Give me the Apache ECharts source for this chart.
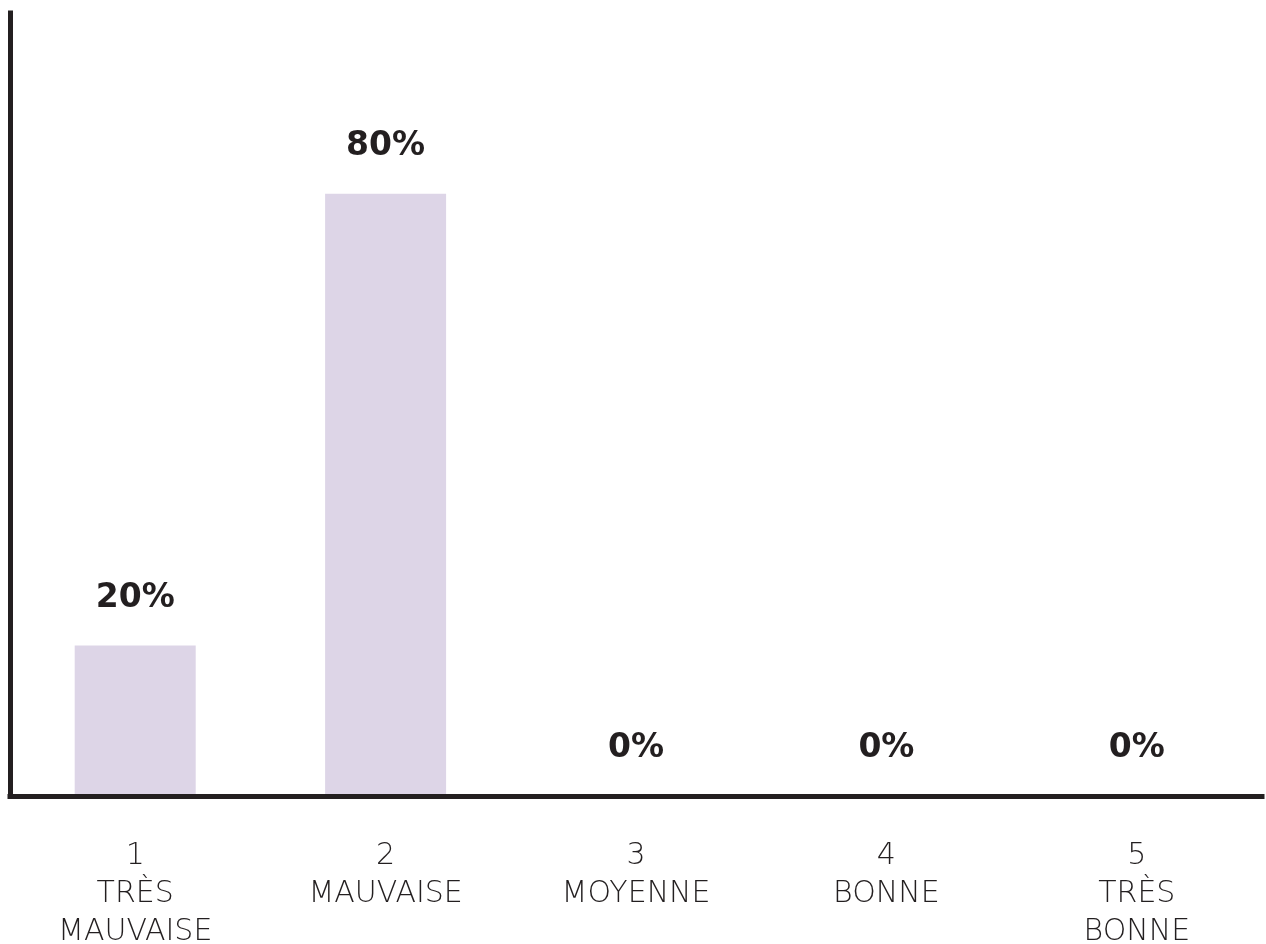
<!DOCTYPE html>
<html>
<head>
<meta charset="utf-8">
<script src="https://cdn.jsdelivr.net/npm/echarts@6/dist/echarts.min.js"></script>
<style>
    html, body { margin: 0; padding: 0; background: #ffffff; }
    #grafica { width: 1266px; height: 944px; }
</style>
</head>
<body>
<div id="grafica"></div>
<script>
// donnees du graphique
var notes = ['1', '2', '3', '4', '5'];
var libelles = ['TRÈS\nMAUVAISE', 'MAUVAISE', 'MOYENNE', 'BONNE', 'TRÈS\nBONNE'];
var pourcentages = [20, 80, 0, 0, 0];

var categories = [];
notes.forEach(function(n, i){
    categories.push(n + '\n' + libelles[i]);
});

//prepare le graphique
function renderGrafico() {
    var grafico = echarts.init(document.getElementById('grafica'));
    var noir = '#231f20';

    var option = {
        animation: false,
        grid: {
            left: 10,
            right: 4,
            top: 13,
            bottom: 148,
            outerBoundsMode: 'none',
            containLabel: false
        },
        xAxis: {
            type: 'category',
            data: categories,
            z: 5,
            axisLine: {
                lineStyle: { color: noir, width: 5, cap: 'square' }
            },
            axisTick: { show: false },
            axisLabel: {
                interval: 0,
                margin: 41,
                color: noir,
                fontFamily: 'DejaVu Sans',
                fontWeight: 200,
                fontSize: 30,
                lineHeight: 38
            }
        },
        yAxis: {
            type: 'value',
            min: 0,
            max: 104,
            axisLine: {
                show: true,
                lineStyle: { color: noir, width: 5, cap: 'square' }
            },
            axisTick: { show: false },
            axisLabel: { show: false },
            splitLine: { show: false }
        },
        series: [{
            type: 'bar',
            data: pourcentages,
            barWidth: 121,
            itemStyle: { color: '#ddd5e7' },
            label: {
                show: true,
                position: 'top',
                distance: 31,
                color: noir,
                fontFamily: 'DejaVu Sans',
                fontWeight: 'bold',
                fontSize: 33,
                formatter: '{c}%'
            }
        }]
    };

    grafico.setOption(option);
}

renderGrafico();
</script>
</body>
</html>
